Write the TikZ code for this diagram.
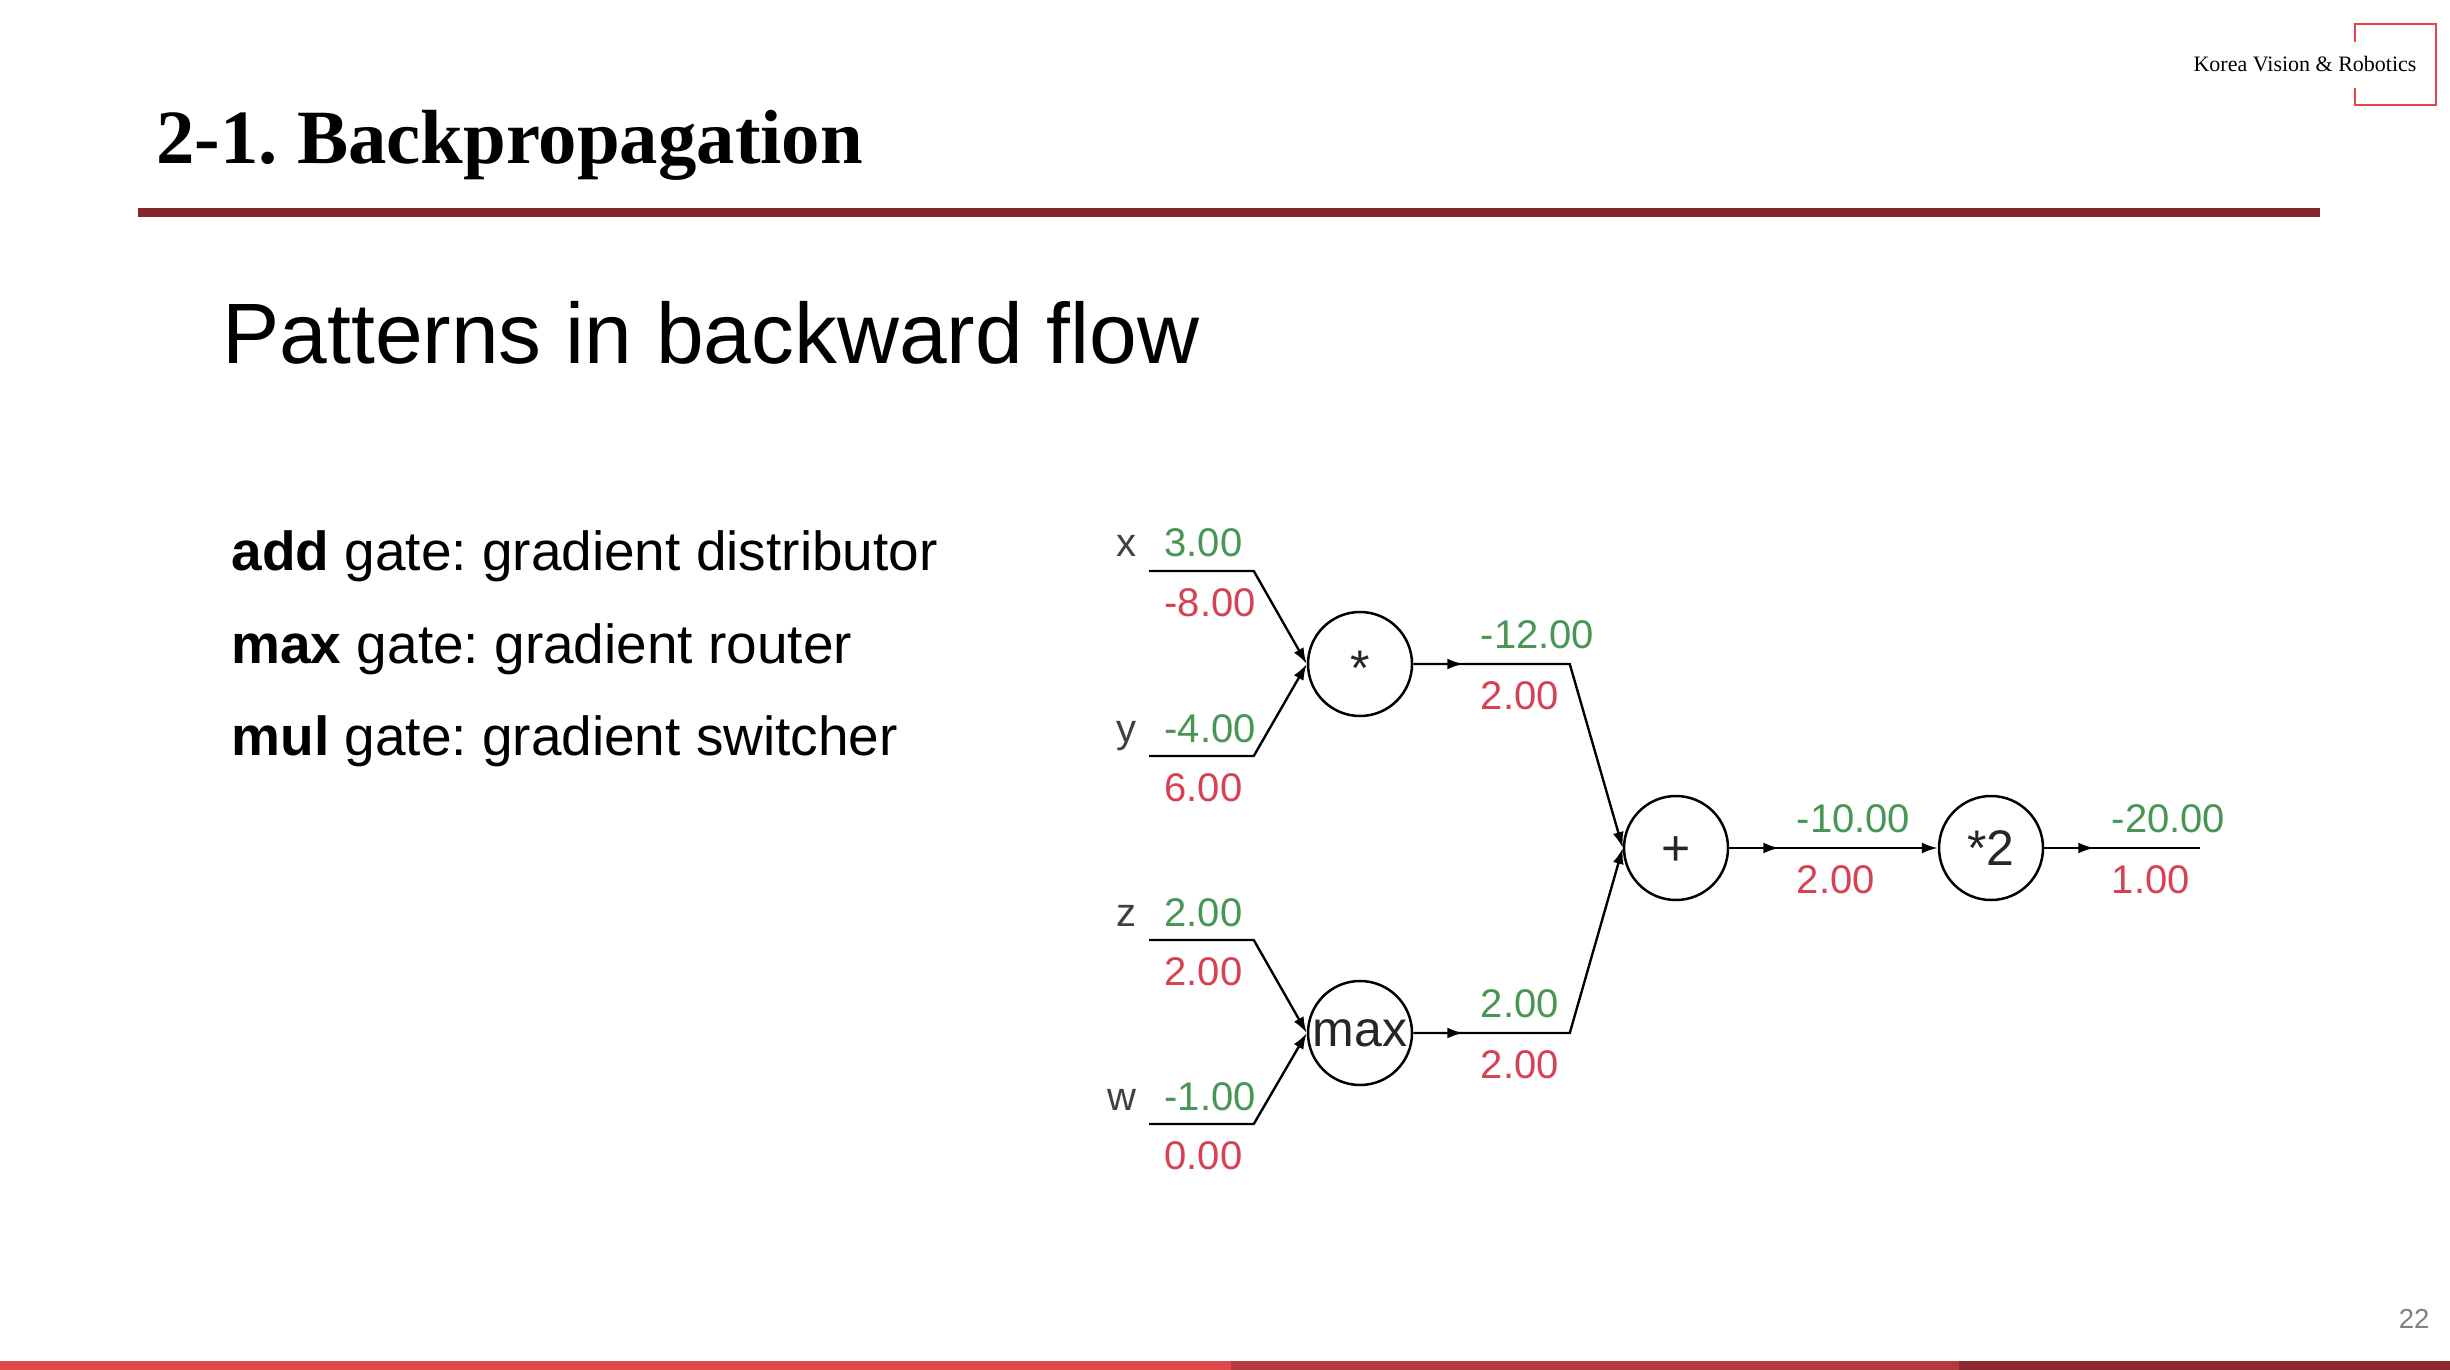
\documentclass[tikz,border=0pt]{standalone}
\usepackage{fontspec}
\setmainfont{Liberation Serif}
\setsansfont{Liberation Sans}
\frenchspacing
\usetikzlibrary{arrows.meta,positioning,decorations.markings}

\definecolor{rulered}{RGB}{130,40,42}
\definecolor{logored}{RGB}{232,67,74}
\definecolor{barA}{RGB}{220,74,75}
\definecolor{barB}{RGB}{180,58,61}
\definecolor{barC}{RGB}{141,42,48}
\definecolor{fwgreen}{RGB}{72,150,85}
\definecolor{bwred}{RGB}{214,66,84}

\tikzset{
  gate/.style={circle,draw,line width=1pt,minimum size=41.6pt,inner sep=0pt,
    font=\sffamily\fontsize{20}{20}\selectfont,text height=14pt,text depth=0pt,text=black!85},
  wire/.style={line width=0.95pt,-{Latex[length=6.4pt,width=4.4pt]}},
  plainwire/.style={line width=0.95pt},
  midtip/.style={postaction={decorate},decoration={markings,
    mark=at position 20pt with {\arrow{Latex[length=6.4pt,width=4.4pt]}}}},
  fwval/.style={font=\sffamily\fontsize{16}{16}\selectfont,text=fwgreen,inner sep=0pt,anchor=base west},
  bwval/.style={font=\sffamily\fontsize{16}{16}\selectfont,text=bwred,inner sep=0pt,anchor=base west},
  varname/.style={font=\sffamily\fontsize{16}{16}\selectfont,text=black!75,inner sep=0pt,anchor=base east},
  bullet/.style={font=\sffamily\fontsize{22}{22}\selectfont,inner sep=0pt,anchor=base west}
}

\begin{document}
\begin{tikzpicture}[x=0.4pt,y=-0.4pt]
\useasboundingbox (0,0) rectangle (2450,1370);
\fill[white] (0,0) rectangle (2450,1370);

% slide header
\node[anchor=base west,inner sep=0pt,font=\bfseries\fontsize{30.7}{30.7}\selectfont] (title) at (156,164) {2-1. Backpropagation};
\fill[rulered] (138,208) rectangle (2320,217);
\node[anchor=base east,inner sep=0pt,font=\fontsize{8.8}{8.8}\selectfont] (logo) at (2417,72) {Korea Vision \& Robotics};
\draw[logored,line width=0.6pt] (2355,42) -- (2355,24) -- (2436,24) -- (2436,105) -- (2355,105) -- (2355,88);

% text on the left
\node[anchor=base west,inner sep=0pt,font=\sffamily\fontsize{34.3}{34.3}\selectfont] (subtitle) at (222,364) {Patterns in backward flow};
\node[bullet] (addrule) at (231,571) {\textbf{add} gate: gradient distributor};
\node[bullet] (maxrule) at (231,663) {\textbf{max} gate: gradient router};
\node[bullet] (mulrule) at (231,755) {\textbf{mul} gate: gradient switcher};

% gates
\node[gate] (mul) at (1360,664) {\raisebox{-0.07em}{*}};
\node[gate] (max) at (1360,1033) {\raisebox{0.09em}{max}};
\node[gate] (add) at (1676,848) {+};
\node[gate] (dbl) at (1991,848) {*2};
\coordinate (out) at (2200,848);

% inputs: name / forward value / backward gradient / line height
\foreach \n/\f/\b/\yy in {x/3.00/-8.00/571, y/-4.00/6.00/756, z/2.00/2.00/940, w/-1.00/0.00/1124} {
    \coordinate (in\n) at (1149,\yy);
    \node[varname] (lab\n) at (1137,\yy-14) {\n};
    \node[fwval] (fw\n) at (1164,\yy-14) {\f};
    \node[bwval] (bw\n) at (1164,\yy+45) {\b};
}

% wires into the first gates
\draw[wire] (inx) -- ([xshift=-21.2pt]mul.west |- inx) -- (mul.west);
\draw[wire] (iny) -- ([xshift=-21.2pt]mul.west |- iny) -- (mul.west);
\draw[wire] (inz) -- ([xshift=-21.2pt]max.west |- inz) -- (max.west);
\draw[wire] (inw) -- ([xshift=-21.2pt]max.west |- inw) -- (max.west);

% wires between gates
\draw[wire,midtip] (mul.east) -- ([xshift=-21.2pt]add.west |- mul.east) -- (add.west);
\draw[wire,midtip] (max.east) -- ([xshift=-21.2pt]add.west |- max.east) -- (add.west);
\draw[wire,midtip] (add) -- (dbl);
\draw[plainwire,midtip] (dbl) -- (out);

% values on the gate outputs
\node[fwval] (mulfw) at ([shift={(67,-16)}]mul.east) {-12.00};
\node[bwval] (mulbw) at ([shift={(67,45)}]mul.east) {2.00};
\node[fwval] (maxfw) at ([shift={(67,-16)}]max.east) {2.00};
\node[bwval] (maxbw) at ([shift={(67,45)}]max.east) {2.00};
\node[fwval] (addfw) at ([shift={(67,-16)}]add.east) {-10.00};
\node[bwval] (addbw) at ([shift={(67,45)}]add.east) {2.00};
\node[fwval] (dblfw) at ([shift={(67,-16)}]dbl.east) {-20.00};
\node[bwval] (dblbw) at ([shift={(67,45)}]dbl.east) {1.00};

% footer
\node[anchor=base east,inner sep=0pt,text=gray,font=\sffamily\fontsize{11}{11}\selectfont] (pagenum) at (2430,1328) {22};
\fill[barA] (0,1361) rectangle (1231,1370);
\fill[barB] (1231,1361) rectangle (1959,1370);
\fill[barC] (1959,1361) rectangle (2450,1370);
\end{tikzpicture}
\end{document}
